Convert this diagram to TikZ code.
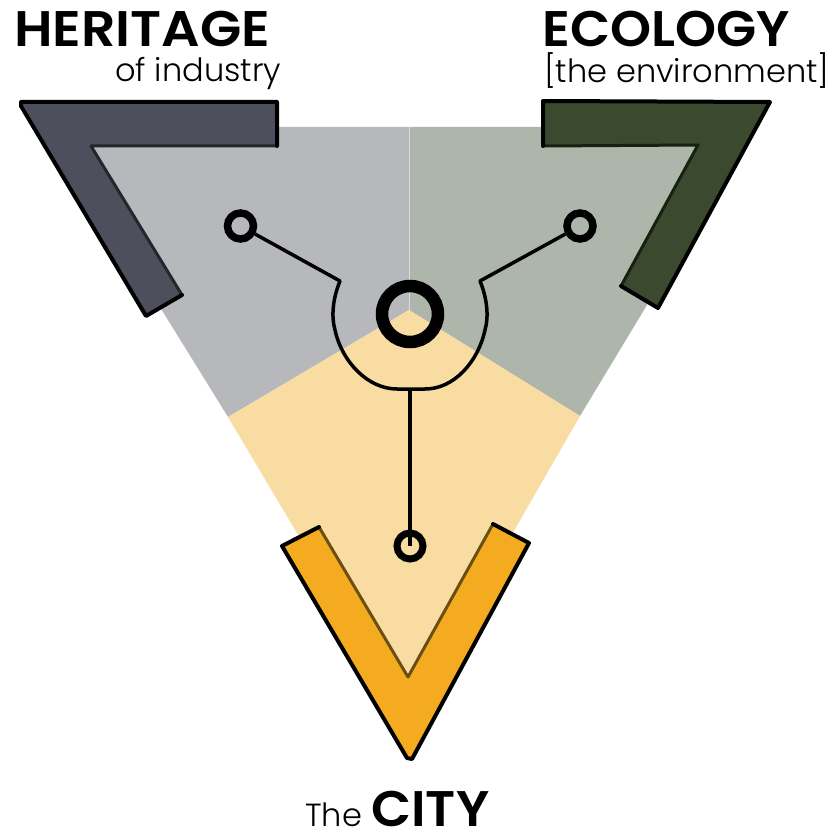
\documentclass[tikz,border=0pt]{standalone}
\usepackage{fontspec}
\setmainfont{Poppins}
\newfontfamily\thinf{Poppins Light}
\newfontfamily\heavyf[FakeStretch=1.045]{Poppins SemiBold}
\newfontfamily\heavyw[FakeStretch=1.075]{Poppins SemiBold}
\definecolor{greyS}{HTML}{B7B8BC}
\definecolor{greenS}{HTML}{AEB6AB}
\definecolor{orangeS}{HTML}{F9DCA2}
\definecolor{greyB}{HTML}{4D505C}
\definecolor{greenB}{HTML}{3B4A2E}
\definecolor{orangeB}{HTML}{F4AB1F}
\definecolor{greyE}{HTML}{24262C}
\definecolor{greenE}{HTML}{16210F}
\definecolor{orangeE}{HTML}{6B4F10}
\tikzset{
  sector/.style={draw=none},
  bracket/.style={line width=4pt,line join=round,line cap=round,draw=black},
  inneredge/.style={line width=3pt,line join=round,line cap=round},
  hubring/.style={circle,draw=black,line width=12.5pt,minimum size=56pt,inner sep=0pt,fill=none},
  smallring/.style={circle,draw=black,line width=7.5pt,minimum size=26pt,inner sep=0pt,fill=none},
  link/.style={line width=3.5pt,draw=black,line join=round},
  big/.style={font=\heavyf\fontsize{50}{50}\selectfont,inner sep=0pt,anchor=base west},
  small/.style={font=\thinf\fontsize{32}{32}\selectfont,inner sep=0pt,anchor=base west}
}
\begin{document}
\begin{tikzpicture}[x=1pt,y=-1pt]
\useasboundingbox (0,0) rectangle (836,832);
% sectors
\fill[greyS,sector] (60,127) -- (409,127) -- (409,310) -- (228,417) -- (163,312) -- cycle;
\fill[greenS,sector] (409,127) -- (740,127) -- (647,305) -- (580,416) -- (409,310) -- cycle;
\fill[orangeS,sector] (409,310) -- (580,416) -- (500,555) -- (409,680) -- (310,555) -- (228,417) -- cycle;
\draw[line width=1pt,draw=greyS!50!white] (409,127) -- (409,310);
% brackets
\fill[greyB] (21,102) -- (277,102) -- (277,146) -- (91,146) -- (182,295) -- (146,316) -- cycle;
\draw[inneredge,greyE] (277,146) -- (91,146) -- (182,295);
\draw[bracket] (182,295) -- (146,316) -- (21,106) -- (21,102) -- (277,102) -- (277,146);
\fill[greenB] (543,101) -- (770,102) -- (658,308) -- (621,286) -- (698,145) -- (543,146) -- cycle;
\draw[inneredge,greenE] (543,146) -- (698,145) -- (621,286);
\draw[bracket] (621,286) -- (658,308) -- (770,102) -- (543,101) -- (543,146);
\fill[orangeB] (282,546) -- (319,527) -- (408,677) -- (493,524) -- (529,543) -- (410,760) -- cycle;
\draw[inneredge,orangeE] (319,527) -- (408,677) -- (493,524);
\draw[bracket] (319,527) -- (282,546) -- (407,758) -- (412,759) -- (529,543) -- (493,524);
% rings
\node[hubring] (hub) at (410,314) {};
\node[smallring] (her) at (240.5,226) {};
\node[smallring] (eco) at (580,226) {};
\node[smallring,line width=7pt] (cty) at (410,546) {};
% connectors
\coordinate (jl) at (340,281);
\coordinate (jr) at (480,281);
\coordinate (jb) at (410,389);
\draw[link] (her) -- (jl) .. controls (333,298) and (331,316) .. (335,330) .. controls (342,362) and (368,389) .. (397,389) -- (425,389) .. controls (454,389) and (478,362) .. (485,330) .. controls (489,316) and (487,298) .. (jr) -- (eco);
\draw[link] (jb) -- (cty.center);
% labels
\node[big,font=\heavyw\fontsize{50}{50}\selectfont] (t1) at (14,47) {HERITAGE};
\node[small] (t2) at (115,82) {of industry};
\node[big] (t3) at (542,47) {ECOLOGY};
\node[small] (t4) at (544,83) {[the environment]};
\node[small] (t5) at (305,826) {The};
\node[big] (t6) at (371,826) {CITY};
\end{tikzpicture}
\end{document}
